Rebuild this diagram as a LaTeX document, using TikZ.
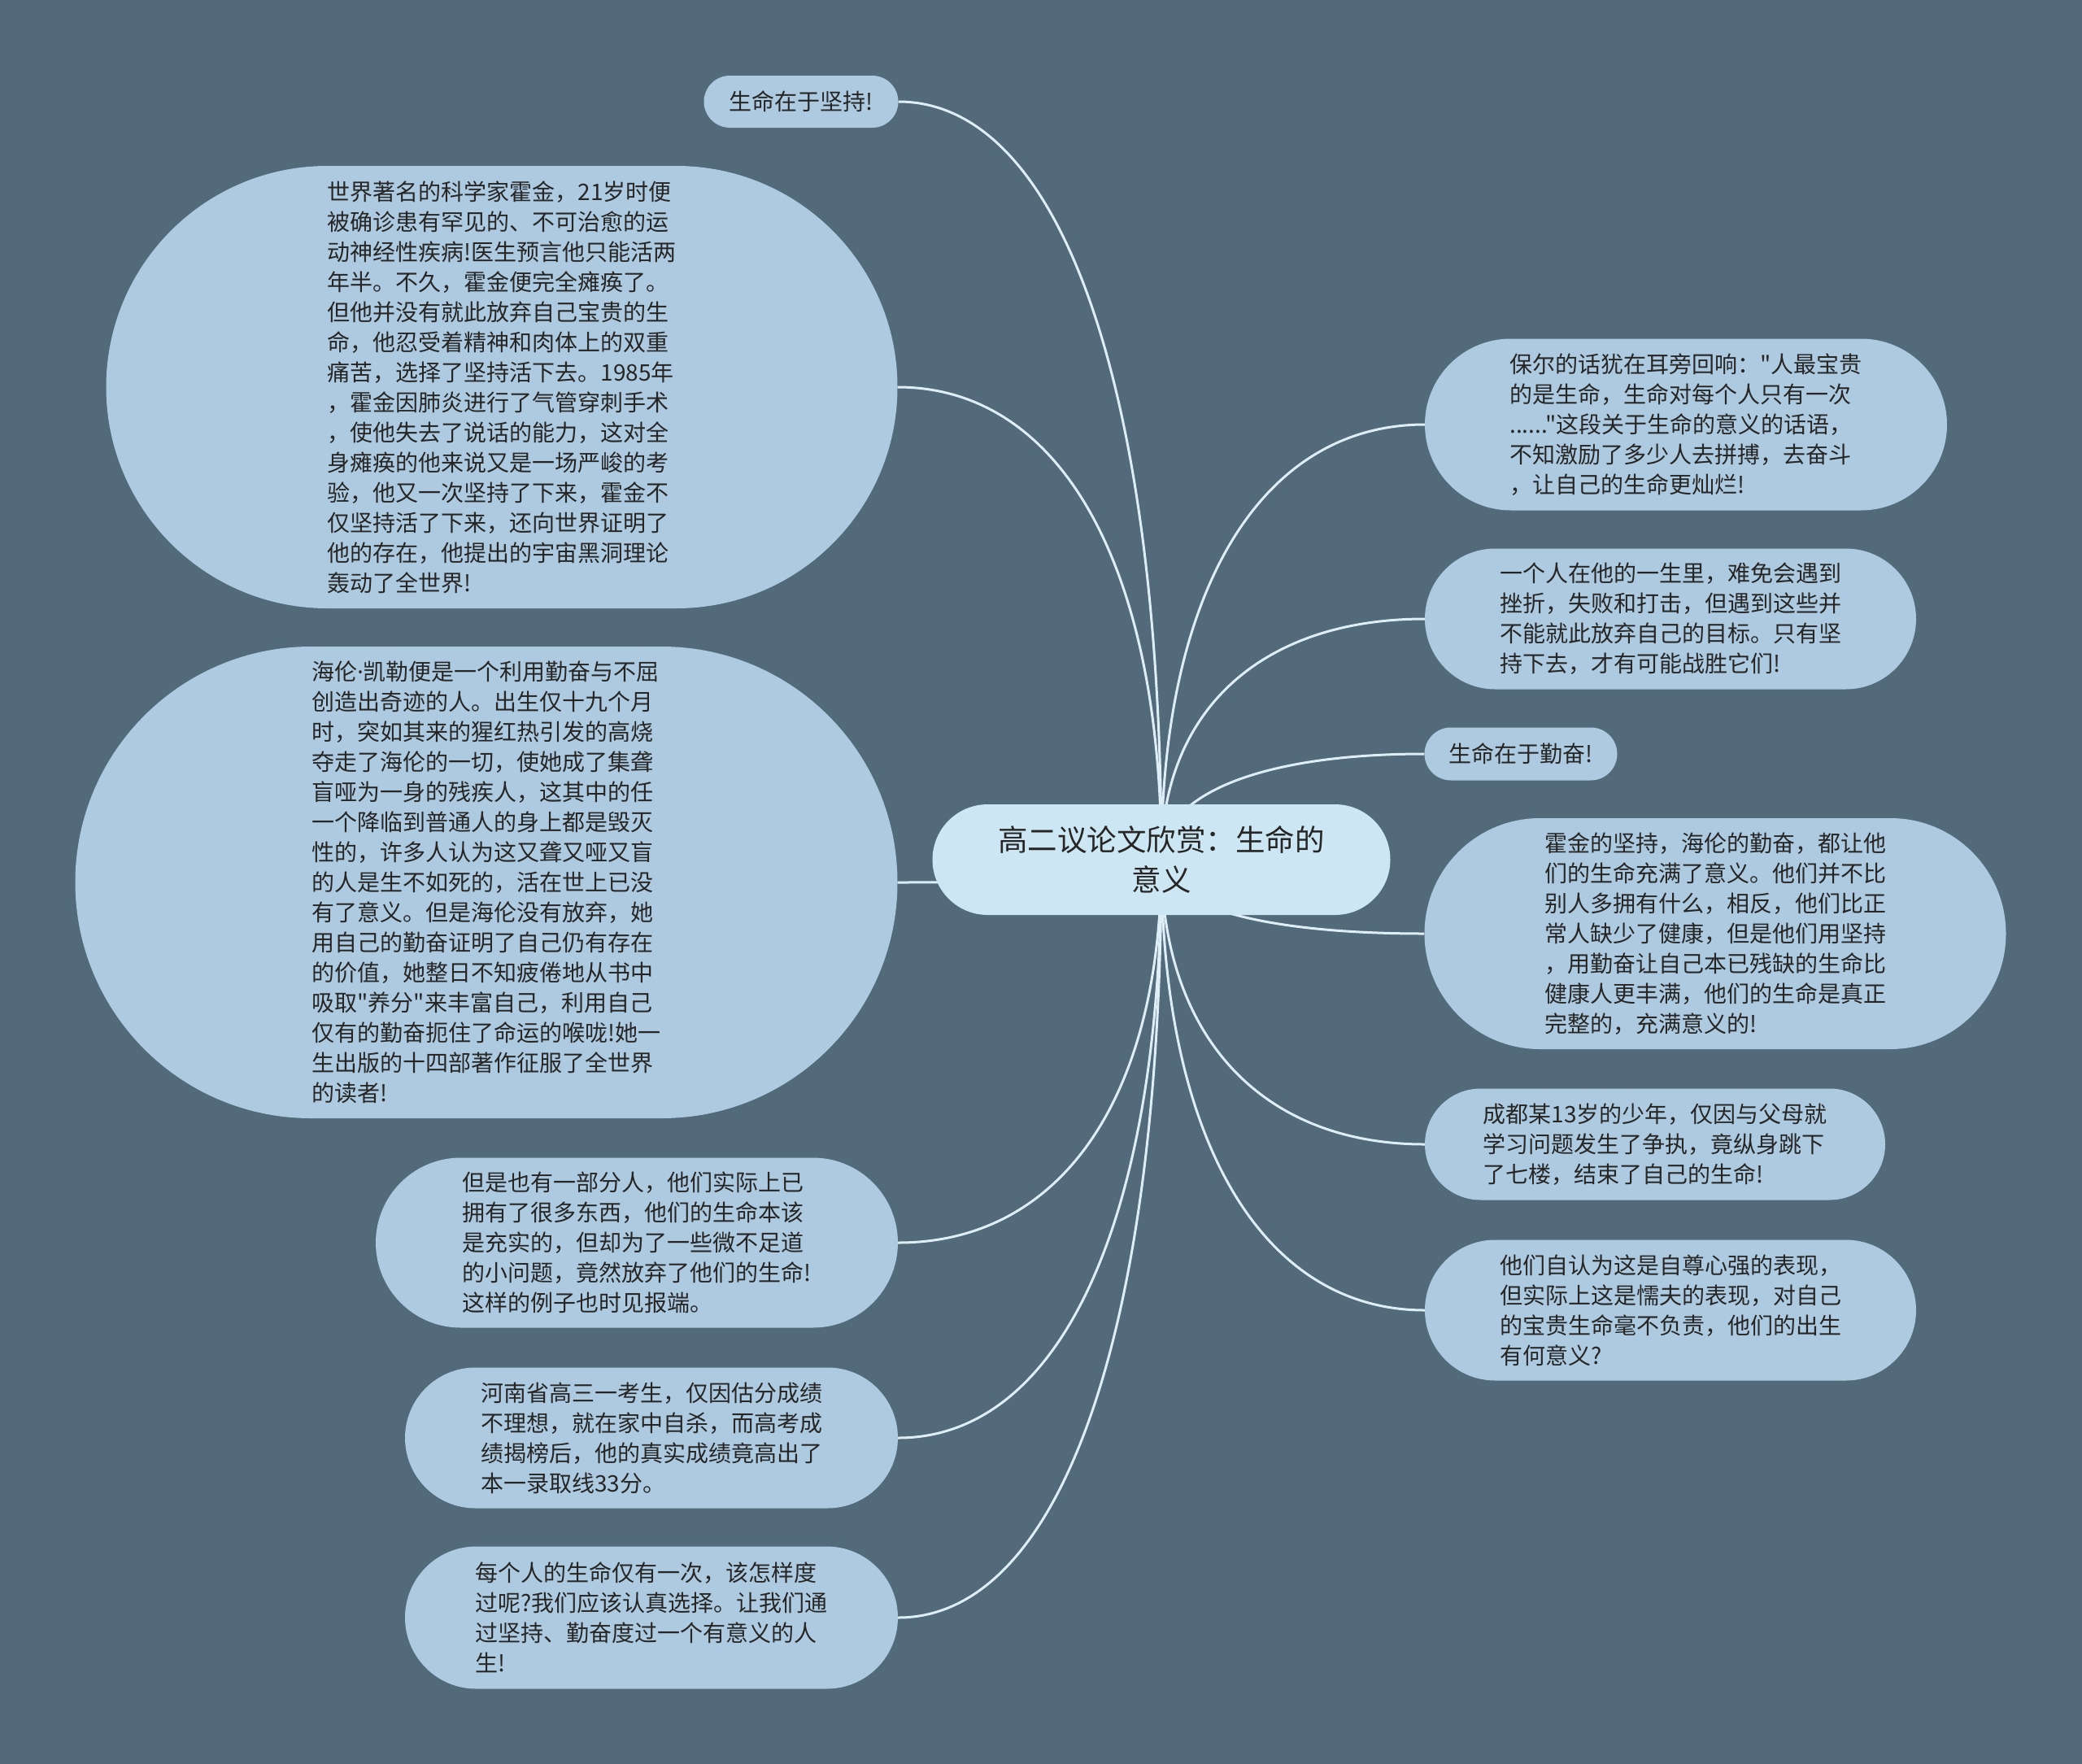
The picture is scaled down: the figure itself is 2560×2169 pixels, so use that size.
\documentclass[tikz,border=0pt]{standalone}
\usepackage{fontspec}
\newfontfamily\cjk{Noto Sans CJK SC}
\newfontfamily\latn{Noto Sans}
\usetikzlibrary{calc}
\pgfdeclarelayer{back}
\pgfdeclarelayer{lines}
\pgfsetlayers{back,lines,main}
\definecolor{bgcol}{HTML}{536A7A}
\definecolor{leafcol}{HTML}{ADCAE1}
\definecolor{rootcol}{HTML}{CDE6F3}
\definecolor{linecol}{HTML}{DDEEF6}
\definecolor{txtcol}{HTML}{262626}
\tikzset{
  leaf/.style 2 args={fill=leafcol, text=txtcol, draw=none, inner sep=0pt, align=left,
    font=\cjk\fontsize{28}{37}\selectfont,
    minimum width=#1pt, minimum height=#2pt, rounded corners=0.5*#2pt},
  rootbox/.style={fill=rootcol, text=txtcol, draw=none, inner sep=0pt, align=center,
    font=\cjk\fontsize{36.5}{49}\selectfont,
    minimum width=563pt, minimum height=136pt, rounded corners=68pt},
  conn/.style={draw=linecol, line width=3pt},
  branch/.style={to path={.. controls ($(\tikztostart)!0.62!(\tikztostart |- \tikztotarget)$) and ($(\tikztotarget)!0.62!(\tikztostart |- \tikztotarget)$) .. (\tikztotarget)}}
}
\begin{document}
\begin{tikzpicture}[x=1pt,y=-1pt]
\useasboundingbox (0,0) rectangle (2560,2169);
\begin{pgfonlayer}{back}
\fill[bgcol] (0,0) rectangle (2560,2169);
\end{pgfonlayer}

\node[rootbox] (root) at (1428,1057) {高二议论文欣赏：生命的\\意义};

\node[leaf={239}{64}] (n1) at (985,125) {生命在于坚持!};
\node[leaf={973}{544}] (n2) at (617,476) {世界著名的科学家霍金，21岁时便\\被确诊患有罕见的、不可治愈的运\\动神经性疾病!医生预言他只能活两\\年半。不久，霍金便完全瘫痪了。\\但他并没有就此放弃自己宝贵的生\\命，他忍受着精神和肉体上的双重\\痛苦，选择了坚持活下去。1985年\\，霍金因肺炎进行了气管穿刺手术\\，使他失去了说话的能力，这对全\\身瘫痪的他来说又是一场严峻的考\\验，他又一次坚持了下来，霍金不\\仅坚持活了下来，还向世界证明了\\他的存在，他提出的宇宙黑洞理论\\轰动了全世界!};
\node[leaf={1011}{580}] (n3) at (598,1085) {海伦{\latn ·}凯勒便是一个利用勤奋与不屈\\创造出奇迹的人。出生仅十九个月\\时，突如其来的猩红热引发的高烧\\夺走了海伦的一切，使她成了集聋\\盲哑为一身的残疾人，这其中的任\\一个降临到普通人的身上都是毁灭\\性的，许多人认为这又聋又哑又盲\\的人是生不如死的，活在世上已没\\有了意义。但是海伦没有放弃，她\\用自己的勤奋证明了自己仍有存在\\的价值，她整日不知疲倦地从书中\\吸取"养分"来丰富自己，利用自己\\仅有的勤奋扼住了命运的喉咙!她一\\生出版的十四部著作征服了全世界\\的读者!};
\node[leaf={642}{209}] (n4) at (783,1528) {但是也有一部分人，他们实际上已\\拥有了很多东西，他们的生命本该\\是充实的，但却为了一些微不足道\\的小问题，竟然放弃了他们的生命!\\这样的例子也时见报端。};
\node[leaf={606}{173}] (n5) at (801,1768) {河南省高三一考生，仅因估分成绩\\不理想，就在家中自杀，而高考成\\绩揭榜后，他的真实成绩竟高出了\\本一录取线33分。};
\node[leaf={606}{175}] (n6) at (801,1989) {每个人的生命仅有一次，该怎样度\\过呢?我们应该认真选择。让我们通\\过坚持、勤奋度过一个有意义的人\\生!};

\node[leaf={642}{211}] (n7) at (2073,522) {保尔的话犹在耳旁回响："人最宝贵\\的是生命，生命对每个人只有一次\\......"这段关于生命的意义的话语，\\不知激励了多少人去拼搏，去奋斗\\，让自己的生命更灿烂!};
\node[leaf={604}{173}] (n8) at (2054,761) {一个人在他的一生里，难免会遇到\\挫折，失败和打击，但遇到这些并\\不能就此放弃自己的目标。只有坚\\持下去，才有可能战胜它们!};
\node[leaf={237}{65}] (n9) at (1870,927) {生命在于勤奋!};
\node[leaf={715}{284}] (n10) at (2109,1148) {霍金的坚持，海伦的勤奋，都让他\\们的生命充满了意义。他们并不比\\别人多拥有什么，相反，他们比正\\常人缺少了健康，但是他们用坚持\\，用勤奋让自己本已残缺的生命比\\健康人更丰满，他们的生命是真正\\完整的，充满意义的!};
\node[leaf={566}{137}] (n11) at (2035,1407) {成都某13岁的少年，仅因与父母就\\学习问题发生了争执，竟纵身跳下\\了七楼，结束了自己的生命!};
\node[leaf={604}{173}] (n12) at (2054,1611) {他们自认为这是自尊心强的表现，\\但实际上这是懦夫的表现，对自己\\的宝贵生命毫不负责，他们的出生\\有何意义?};

\begin{pgfonlayer}{lines}
\foreach \n in {n1,n2,n3,n4,n5,n6}
  \draw[conn] (root.center) to[branch] (\n.east);
\foreach \n in {n7,n8,n9,n10,n11,n12}
  \draw[conn] (root.center) to[branch] (\n.west);
\end{pgfonlayer}
\end{tikzpicture}
\end{document}
